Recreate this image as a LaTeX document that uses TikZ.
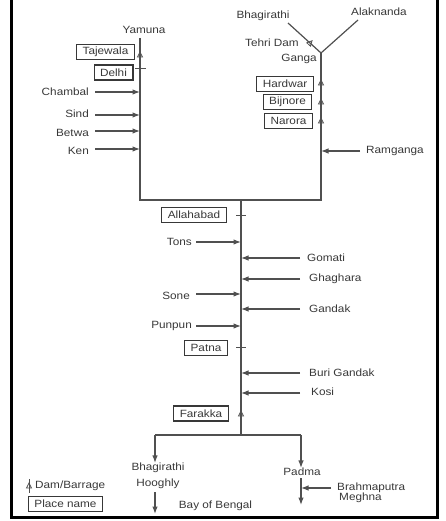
\documentclass[tikz,border=0pt]{standalone}
\usepackage{fontspec}
\setmainfont{Liberation Sans}[FakeStretch=1.12]
\usetikzlibrary{arrows.meta}
\definecolor{tx}{HTML}{383838}
\definecolor{ln}{HTML}{505050}
\begin{document}
\begin{tikzpicture}[x=1pt,y=-1pt,
 lbl/.style={font=\fontsize{10.5}{12}\selectfont, text=tx, inner sep=0pt},
 placebox/.style={lbl, draw=tx, line width=1.2pt, inner xsep=6pt, minimum height=15pt},
 river/.style={draw=ln, line width=1.2pt},
 trib/.style={river, -{Latex[length=7.5pt,width=5.5pt]}},
 tick/.style={draw=ln, line width=0.9pt},
 dam/.pic={\draw[ln, line width=0.8pt] (-2.5,2) -- (2.5,2) -- (0,-3) -- cycle;}]
\useasboundingbox (0,0) rectangle (446,521);
% frame
\draw[line width=3pt, black] (11,-5) -- (11,517) -- (437,517) -- (437,-5);

% river skeleton
\coordinate (yt) at (140,38);
\coordinate (yb) at (140,200);
\coordinate (gj) at (321,53);
\coordinate (gb) at (321,200);
\coordinate (conf) at (241,200);
\coordinate (split) at (241,435);
\coordinate (bhs) at (288,23);
\coordinate (als) at (358,20);
\coordinate (lsp) at (155,435);
\coordinate (rsp) at (301,435);
\draw[river] (yt) -- (yb) -- (gb) -- (gj);
\draw[river] (bhs) -- (gj) -- (als);
\draw[river] (conf) -- (split);
\draw[river] (lsp) -- (rsp);

% top labels
\node[lbl] (yamuna) at (144,30) {Yamuna};
\node[lbl] (bhag) at (263,16) {Bhagirathi};
\node[lbl] (alak) at (379,12) {Alaknanda};
\node[lbl] (tehri) at (272,43) {Tehri Dam};
\node[lbl] (ganga) at (299,59) {Ganga};
\pic[rotate=-42] at (310,43) {dam};

% Yamuna places
\node[placebox] (tajewala) at (105.5,52) {Tajewala};
\pic at (140,55) {dam};
\node[placebox] (delhi) at (113.5,72.5) {Delhi};
\draw[tick] (135,68) -- (146,68);

% Yamuna tributaries
\node[lbl, anchor=east] (chambal) at (89,92) {Chambal};
\node[lbl, anchor=east] (sind) at (89,114) {Sind};
\node[lbl, anchor=east] (betwa) at (89,133) {Betwa};
\node[lbl, anchor=east] (ken) at (89,151) {Ken};
\coordinate (chs) at (95,92);
\coordinate (sis) at (95,115);
\coordinate (bes) at (95,131);
\coordinate (kes) at (95,149);
\draw[trib] (chs) -- (chs -| yt);
\draw[trib] (sis) -- (sis -| yt);
\draw[trib] (bes) -- (bes -| yt);
\draw[trib] (kes) -- (kes -| yt);

% Ganga places
\node[placebox] (hardwar) at (285,84) {Hardwar};
\pic at (321,83) {dam};
\node[placebox] (bijnore) at (287.5,102) {Bijnore};
\pic at (321,102) {dam};
\node[placebox] (narora) at (288.5,121) {Narora};
\pic at (321,121) {dam};
\node[lbl, anchor=west] (ramganga) at (366,151) {Ramganga};
\coordinate (ras) at (360,151);
\draw[trib] (ras) -- (ras -| gj);

% main stem
\node[placebox] (allahabad) at (194,215) {Allahabad};
\draw[tick] (236,215) -- (246,215);
\node[lbl, anchor=east] (tons) at (192,242) {Tons};
\node[lbl, anchor=east] (sone) at (190,296) {Sone};
\node[lbl, anchor=east] (punpun) at (192,326) {Punpun};
\coordinate (tos) at (196,242);
\coordinate (sos) at (196,294);
\coordinate (pus) at (196,326);
\draw[trib] (tos) -- (tos -| conf);
\draw[trib] (sos) -- (sos -| conf);
\draw[trib] (pus) -- (pus -| conf);

\node[lbl, anchor=west] (gomati) at (307,258) {Gomati};
\node[lbl, anchor=west] (ghaghara) at (309,279) {Ghaghara};
\node[lbl, anchor=west] (gandak) at (309,309) {Gandak};
\node[lbl, anchor=west] (burigandak) at (309,373) {Buri Gandak};
\node[lbl, anchor=west] (kosi) at (311,392) {Kosi};
\coordinate (gos) at (300,258);
\coordinate (ghs) at (300,279);
\coordinate (gas) at (300,309);
\coordinate (bus) at (300,373);
\coordinate (kos) at (300,393);
\draw[trib] (gos) -- (gos -| conf);
\draw[trib] (ghs) -- (ghs -| conf);
\draw[trib] (gas) -- (gas -| conf);
\draw[trib] (bus) -- (bus -| conf);
\draw[trib] (kos) -- (kos -| conf);

\node[placebox] (patna) at (206,348) {Patna};
\draw[tick] (236,347) -- (246,347);
\node[placebox] (farakka) at (201,413.5) {Farakka};
\pic at (241,414) {dam};

% distributaries
\node[lbl] (bhag2) at (158,468) {Bhagirathi};
\node[lbl] (hooghly) at (158,484) {Hooghly};
\draw[trib] (lsp) -- (lsp |- bhag2.north);
\coordinate (htop) at (155,492);
\coordinate (hbot) at (155,514);
\draw[trib] (htop) -- (hbot);
\node[lbl] (bay) at (215.5,506) {Bay of Bengal};

\node[lbl] (padma) at (302,472) {Padma};
\draw[trib] (rsp) -- (rsp |- padma.north);
\coordinate (ptop) at (301,478);
\coordinate (pbot) at (301,505);
\draw[trib] (ptop) -- (pbot);
\node[lbl, anchor=west] (brahma) at (337,488) {Brahmaputra};
\node[lbl, anchor=west] (meghna) at (339,498) {Meghna};
\coordinate (brs) at (331,488);
\draw[trib] (brs) -- (brs -| rsp);

% legend
\draw[ln, line width=0.8pt] (29,479) -- (29,493);
\pic at (29,486) {dam};
\node[lbl, anchor=west] (damlbl) at (35,486) {Dam/Barrage};
\node[placebox] (placelbl) at (65.5,504) {Place name};
\end{tikzpicture}
\end{document}
